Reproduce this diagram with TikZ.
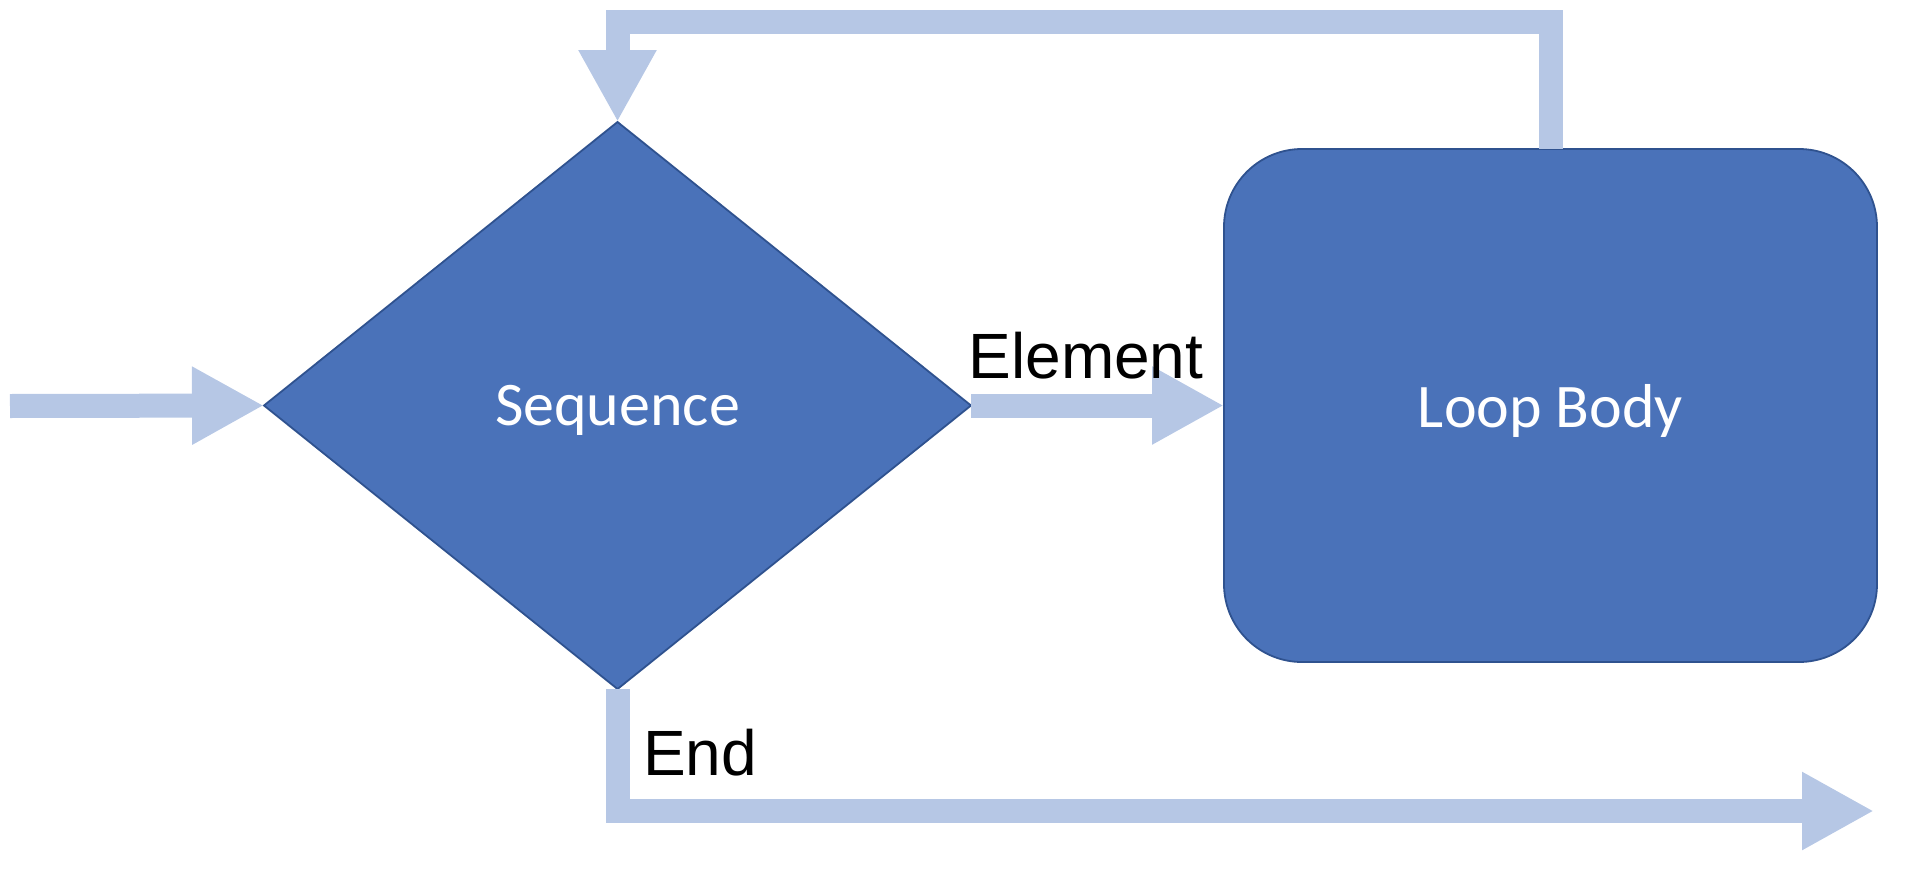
\documentclass[tikz,border=0pt]{standalone}
\usepackage{fontspec}
\usepackage{graphicx}
\setmainfont{Liberation Sans}
\newfontfamily\carlito{Carlito}
\usetikzlibrary{shapes.geometric,arrows.meta}
\definecolor{boxblue}{HTML}{4A72B9}
\definecolor{boxedge}{HTML}{2F528F}
\definecolor{flow}{HTML}{B6C7E5}
\newcommand{\bigtxt}[1]{\scalebox{4}{\fontsize{15.5}{18}\selectfont #1}}
\newcommand{\biglbl}[1]{\scalebox{4}{\fontsize{16}{19}\selectfont #1}}
\begin{document}
\begin{tikzpicture}[x=1pt,y=1pt,
  shapebox/.style={fill=boxblue,draw=boxedge,line width=1.8pt,outer sep=0pt,inner sep=0pt,
     text=white,font=\carlito,text depth=0pt},
  flowline/.style={draw=flow,line width=24pt,line cap=butt,line join=miter,
     -{Triangle[width=73pt,length=72pt]}},
  lbl/.style={anchor=base,text=black,inner sep=0pt}]
\useasboundingbox (0,0) rectangle (1912,-870);
\node[shapebox,diamond,minimum width=707pt,minimum height=567pt] (seq) at (617.5,-405.5) {\bigtxt{Sequence}};
\node[shapebox,rectangle,rounded corners=78pt,minimum width=653pt,minimum height=513pt] (body) at (1550.5,-405.5) {\bigtxt{Loop Body}};
\coordinate (start) at (10,-406);
\coordinate (endpt) at (1874,-811);
\coordinate (top) at (1550.5,-22);
\draw[flowline] (start) -- (seq.west);
\draw[flowline] (seq.east) -- (body.west);
\draw[flowline] (body.north) -- (top) -| (seq.north);
\draw[flowline] (seq.south) |- (endpt);
\node[lbl] (elab) at (1086,-378) {\biglbl{Element}};
\node[lbl] (endlab) at (700,-775) {\biglbl{End}};
\end{tikzpicture}
\end{document}
